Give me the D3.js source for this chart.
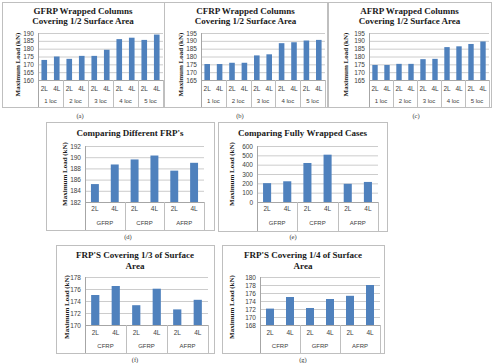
<!DOCTYPE html>
<html><head><meta charset="utf-8">
<script src="https://cdn.jsdelivr.net/npm/d3@7"></script>
<style>body{margin:0;background:#fff}svg{display:block}</style>
</head><body>
<svg id="c" width="494" height="363"></svg>
<script>
// ---- data ----
const locGroups = ["1 loc","2 loc","3 loc","4 loc","5 loc"];
const frpGroupsDE = ["GFRP","CFRP","AFRP"];
const frpGroupsFG = ["CFRP","GFRP","AFRP"];
const layerLabels = ["2L","4L"];

const gfrpHalf = [172.8,175.0,173.5,175.4,175.4,179.3,186.1,187.0,185.6,189.0];
const cfrpHalf = [175.2,175.2,176.0,176.0,180.7,181.4,188.5,189.1,190.2,190.6];
const afrpHalf = [174.6,174.6,175.3,175.3,178.3,178.5,186.0,186.5,188.0,189.6];
const diffFrp = [185.2,188.7,189.6,190.3,187.6,189.0];
const fullWrap = [202,222,418,507,195,215];
const third = [175.0,176.5,173.3,176.05,172.6,174.2];
const quarter = [172.1,175.0,172.25,174.5,175.3,178.0];

const ticksA = [160,165,170,175,180,185,190];
const ticksBC = [165,170,175,180,185,190,195];
const ticksD = [182,184,186,188,190,192];
const ticksE = [0,100,200,300,400,500,600];
const ticksF = [170,172,174,176,178];
const ticksG = [168,170,172,174,176,178,180];

// ---- layout ----
const svg = d3.select("#c");
const BAR = "#4F81BD", GRID = "#bfbfbf", BORDER = "#bfbfbf", TXT = "#404040";

function panel(o){
  const g = svg.append("g");
  g.append("rect").attr("x",o.box[0]+0.5).attr("y",o.box[1]+0.5)
    .attr("width",o.box[2]-o.box[0]).attr("height",o.box[3]-o.box[1])
    .attr("fill","#fff").attr("stroke",BORDER);
  o.title.forEach((t,i)=>{
    g.append("text").attr("x",(o.box[0]+o.box[2])/2).attr("y",o.titleY[i])
      .attr("text-anchor","middle").attr("font-family","Liberation Serif")
      .attr("font-weight","bold").attr("font-size",9).attr("fill","#1a1a1a").text(t);
  });
  const y = d3.scaleLinear().domain(o.domain).range([o.py[1],o.py[0]]);
  const cats = [];
  o.groups.forEach(gr=>layerLabels.forEach(l=>cats.push(gr+"|"+l)));
  const x = d3.scaleBand().domain(cats).range([o.px[0],o.px[1]]).paddingInner(o.pad).paddingOuter(o.pad/2);
  const xg = d3.scaleBand().domain(o.groups).range([o.px[0],o.px[1]]);
  // grid
  const ya = g.append("g").attr("transform",`translate(${o.px[0]},0)`)
    .call(d3.axisLeft(y).tickValues(o.ticks).tickSize(-(o.px[1]-o.px[0])).tickPadding(4));
  ya.select(".domain").remove();
  ya.selectAll(".tick line").attr("stroke",GRID).attr("stroke-width",0.8);
  ya.selectAll(".tick text").attr("font-family","Liberation Sans").attr("font-size",6.5).attr("fill",TXT);
  // bars
  g.selectAll("rect.bar").data(o.values).join("rect").attr("class","bar")
    .attr("x",(d,i)=>x(cats[i])).attr("width",x.bandwidth())
    .attr("y",d=>y(d)).attr("height",d=>y(o.domain[0])-y(d)).attr("fill",BAR);
  // axis lines
  g.append("line").attr("x1",o.px[0]+0.5).attr("x2",o.px[0]+0.5).attr("y1",o.py[0]).attr("y2",o.box[3])
    .attr("stroke","#a6a6a6");
  g.append("line").attr("x1",o.px[0]).attr("x2",o.px[1]).attr("y1",o.py[1]+0.5).attr("y2",o.py[1]+0.5)
    .attr("stroke","#a6a6a6");
  o.groups.forEach(gr=>{
    const xe = xg(gr)+xg.bandwidth();
    g.append("line").attr("x1",Math.round(xe)+0.5).attr("x2",Math.round(xe)+0.5)
      .attr("y1",o.py[1]).attr("y2",o.box[3]).attr("stroke","#bfbfbf");
    layerLabels.forEach(l=>{
      g.append("text").attr("x",x(gr+"|"+l)+x.bandwidth()/2).attr("y",o.rows[0])
        .attr("text-anchor","middle").attr("font-family","Liberation Sans").attr("font-size",6.5)
        .attr("fill",TXT).text(l);
    });
    g.append("text").attr("x",xg(gr)+xg.bandwidth()/2).attr("y",o.rows[1])
      .attr("text-anchor","middle").attr("font-family","Liberation Sans").attr("font-size",6)
      .attr("fill",TXT).text(gr);
  });
  // y title
  const ym = (o.py[0]+o.py[1])/2+ (o.ytOff||0);
  g.append("text").attr("transform",`translate(${o.ytx},${ym}) rotate(-90)`)
    .attr("text-anchor","middle").attr("font-family","Liberation Serif").attr("font-weight","bold")
    .attr("font-size",7).attr("fill","#1a1a1a").text("Maximum Load (kN)");
  // caption
  svg.append("text").attr("x",o.cap[0]).attr("y",o.cap[1]).attr("text-anchor","middle")
    .attr("font-family","Liberation Serif").attr("font-size",6.5).attr("fill","#333").text(o.capText);
}

panel({box:[2,2,164,107],title:["GFRP Wrapped Columns","Covering 1/2 Surface Area"],titleY:[14,24],
  domain:[160,190],ticks:ticksA,px:[38,163],py:[33,80],groups:locGroups,values:gfrpHalf,pad:0.55,
  rows:[91,103],ytx:20,ytOff:8,cap:[80,118],capText:"(a)"});
panel({box:[164,2,327,107],title:["CFRP Wrapped Columns","Covering 1/2 Surface Area"],titleY:[14,24],
  domain:[165,195],ticks:ticksBC,px:[201,325],py:[33,80],groups:locGroups,values:cfrpHalf,pad:0.55,
  rows:[91,103],ytx:183,ytOff:8,cap:[240,118],capText:"(b)"});
panel({box:[328,2,491,107],title:["AFRP Wrapped Columns","Covering 1/2 Surface Area"],titleY:[14,24],
  domain:[165,195],ticks:ticksBC,px:[369,489],py:[33,80],groups:locGroups,values:afrpHalf,pad:0.55,
  rows:[91,103],ytx:348,ytOff:8,cap:[416,118],capText:"(c)"});
panel({box:[46,122,214,230],title:["Comparing Different FRP's"],titleY:[136],
  domain:[182,192],ticks:ticksD,px:[85,204],py:[146,202],groups:frpGroupsDE,values:diffFrp,pad:0.6,
  rows:[211,225],ytx:67,ytOff:0,cap:[128,239],capText:"(d)"});
panel({box:[218,122,387,231],title:["Comparing Fully Wrapped Cases"],titleY:[136],
  domain:[0,600],ticks:ticksE,px:[257,378],py:[146,202],groups:frpGroupsDE,values:fullWrap,pad:0.6,
  rows:[211,225],ytx:234,ytOff:0,cap:[293,239],capText:"(e)"});
panel({box:[56,245,214,353],title:["FRP'S Covering 1/3 of Surface","Area"],titleY:[258,269],
  domain:[170,178],ticks:ticksF,px:[85,208],py:[277,325],groups:frpGroupsFG,values:third,pad:0.6,
  rows:[335,348],ytx:69,ytOff:6,cap:[135,362],capText:"(f)"});
panel({box:[222,245,384,353],title:["FRP'S Covering 1/4 of Surface","Area"],titleY:[258,269],
  domain:[168,180],ticks:ticksG,px:[260,380],py:[277,325],groups:frpGroupsFG,values:quarter,pad:0.6,
  rows:[335,348],ytx:234,ytOff:6,cap:[303,362],capText:"(g)"});
</script>
</body></html>
